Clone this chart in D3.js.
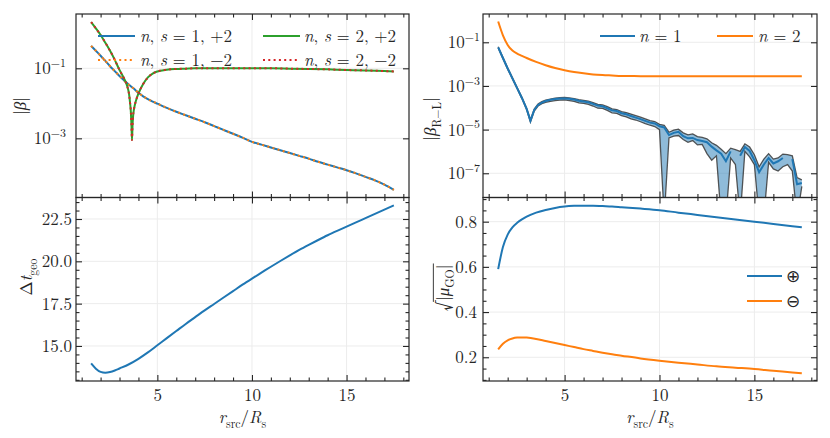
<!DOCTYPE html>
<html><head><meta charset="utf-8">
<script src="https://cdn.jsdelivr.net/npm/d3@7"></script>
<style>
body{margin:0;background:#fff}
</style>
</head><body><svg id="c" width="830" height="438" xmlns="http://www.w3.org/2000/svg"></svg>
<script>
// ---------------- data ----------------
const xMajor = [5, 10, 15];
const xMinor = [1,2,3,4,6,7,8,9,11,12,13,14,16,17,18];

// top-left |beta| (log10 exponents)
const xB1 = [1.5,1.75,2,2.25,2.5,2.75,3,3.25,3.5,3.75,4,4.25,4.5,4.75,5,5.5,6,6.5,7,7.5,8,8.5,9,9.5,10,10.5,11,11.5,12,12.5,13,13.5,14,14.5,15,15.5,16,16.5,17,17.5];
const betaN1Exp = [-0.36,-0.5,-0.64,-0.79,-0.94,-1.08,-1.22,-1.35,-1.47,-1.58,-1.7,-1.8,-1.88,-1.95,-2.01,-2.13,-2.24,-2.34,-2.44,-2.54,-2.65,-2.76,-2.87,-2.98,-3.1,-3.18,-3.26,-3.34,-3.42,-3.5,-3.58,-3.67,-3.75,-3.83,-3.91,-4.0,-4.1,-4.2,-4.32,-4.47];
const xB2 = [1.5,1.75,2,2.25,2.5,2.75,3,3.25,3.4,3.5,3.56,3.6,3.63,3.66,3.69,3.72,3.76,3.8,3.9,4,4.25,4.5,4.75,5,5.5,6,6.5,7,8,9,10,11,12,13,14,15,16,17,17.5];
const betaN2Exp = [0.32,0.14,-0.05,-0.27,-0.5,-0.76,-1.05,-1.3,-1.5,-1.72,-2.0,-2.25,-2.6,-3.05,-2.6,-2.35,-2.18,-2.07,-1.87,-1.72,-1.45,-1.26,-1.15,-1.09,-1.04,-1.02,-1.01,-1.0,-1.0,-1.0,-1.0,-1.0,-1.01,-1.02,-1.03,-1.05,-1.06,-1.08,-1.09];

// top-right |beta_R-L| (log10 exponents); null = gap / non-positive bound
const xRL1 = [1.5,1.75,2,2.25,2.5,2.75,3,3.2,3.4,3.6,3.8,4,4.25,4.5,4.75,5,5.25,5.5,5.75,6,6.25,6.5,6.75,7,7.25,7.5,7.75,8,8.25,8.5,8.75,9,9.25,9.5,9.75,10,10.25,10.5,10.75,11,11.25,11.5,11.75,12,12.25,12.5,12.75,13,13.25,13.5,13.75,14,14.25,14.5,14.75,15,15.25,15.5,15.75,16,16.25,16.5,16.75,17,17.25,17.5];
const rlN1Exp = [-1.23,-1.72,-2.2,-2.65,-3.1,-3.55,-4.05,-4.6,-4.1,-3.87,-3.76,-3.69,-3.63,-3.6,-3.58,-3.57,-3.59,-3.62,-3.68,-3.71,-3.75,-3.82,-3.9,-3.93,-4.02,-4.12,-4.15,-4.25,-4.3,-4.38,-4.45,-4.52,-4.6,-4.68,-4.72,-4.85,-4.9,-5.25,-5.15,-5.1,-5.3,-5.4,-5.38,-5.48,-5.52,-5.58,-5.78,-5.95,-6.1,-6.45,-6.0,null,-6.2,-5.8,-5.98,-6.4,-6.95,-6.6,-6.3,-6.55,-6.45,-6.3,null,-6.35,-7.5,-7.45];
const rlN1LoExp = [-1.26,-1.75,-2.23,-2.68,-3.13,-3.58,-4.09,-4.66,-4.15,-3.92,-3.81,-3.75,-3.71,-3.67,-3.65,-3.64,-3.67,-3.71,-3.78,-3.8,-3.84,-3.92,-4.02,-4.03,-4.12,-4.23,-4.26,-4.36,-4.42,-4.51,-4.56,-4.64,-4.73,-4.8,-4.86,-5.0,null,-5.38,-5.3,-5.27,-5.45,-5.58,-5.5,-5.7,-5.68,-6.1,-6.4,-6.2,null,null,-6.3,-6.6,null,-6.0,-6.25,-6.6,null,null,-6.5,-6.8,-6.9,-6.7,-6.6,-6.9,null,-7.6];
const rlN1HiExp = [-1.2,-1.69,-2.17,-2.62,-3.07,-3.52,-4.02,-4.55,-4.06,-3.83,-3.72,-3.65,-3.6,-3.56,-3.54,-3.53,-3.55,-3.58,-3.63,-3.66,-3.7,-3.76,-3.84,-3.87,-3.95,-4.05,-4.08,-4.18,-4.22,-4.29,-4.36,-4.43,-4.51,-4.59,-4.63,-4.76,-4.8,-5.12,-5.02,-4.98,-5.15,-5.24,-5.2,-5.32,-5.36,-5.42,-5.6,-5.72,-5.9,-6.1,-5.85,-5.92,-6.0,-5.65,-5.8,-6.15,-6.7,-6.35,-6.1,-6.35,-6.3,-6.12,-6.15,-6.2,-7.2,-7.3];
const xRL2 = [1.5,1.75,2,2.25,2.5,2.75,3,3.5,4,4.5,5,5.5,6,6.5,7,7.5,8,9,10,11,12,13,14,15,16,17,17.5];
const rlN2Exp = [-0.05,-0.68,-1.12,-1.38,-1.52,-1.62,-1.72,-1.9,-2.05,-2.18,-2.28,-2.36,-2.42,-2.47,-2.5,-2.52,-2.54,-2.55,-2.56,-2.56,-2.56,-2.56,-2.56,-2.56,-2.56,-2.56,-2.56];

// bottom-left Delta t_geo
const xT = [1.5,1.75,2,2.25,2.5,2.75,3,3.5,4,4.5,5,5.5,6,6.5,7,7.5,8,8.5,9,9.5,10,10.5,11,11.5,12,12.5,13,13.5,14,14.5,15,15.5,16,16.5,17,17.5];
const dtGeo = [13.97,13.66,13.47,13.42,13.46,13.55,13.67,13.92,14.24,14.62,15.04,15.46,15.88,16.3,16.7,17.1,17.48,17.86,18.24,18.62,18.98,19.33,19.68,20.02,20.35,20.67,20.97,21.26,21.54,21.8,22.05,22.3,22.55,22.8,23.05,23.3];

// bottom-right sqrt|mu_GO|
const xMu = [1.5,1.75,2,2.25,2.5,2.75,3,3.5,4,4.5,5,5.5,6,6.5,7,7.5,8,9,10,11,12,13,14,15,16,17,17.5];
const muPlus = [0.59,0.688,0.743,0.775,0.795,0.81,0.822,0.84,0.852,0.861,0.867,0.87,0.871,0.871,0.869,0.867,0.864,0.858,0.851,0.84,0.83,0.82,0.81,0.8,0.79,0.78,0.775];
const muMinus = [0.235,0.26,0.275,0.283,0.287,0.288,0.287,0.281,0.272,0.263,0.254,0.245,0.236,0.228,0.22,0.213,0.207,0.195,0.185,0.176,0.168,0.16,0.154,0.148,0.14,0.133,0.129];

const yMajTL = [1e-3, 1e-1];
const yMajTR = [1e-7, 1e-5, 1e-3, 1e-1];
const yMajBL = [15, 17.5, 20, 22.5];
const yMinBL = [13,13.5,14,14.5,15.5,16,16.5,17,18,18.5,19,19.5,20.5,21,21.5,22,23,23.5];
const yMajBR = [0.2, 0.4, 0.6, 0.8];
const yMinBR = [0.1,0.15,0.25,0.3,0.35,0.45,0.5,0.55,0.65,0.7,0.75,0.85,0.9];

// ---------------- font pick ----------------
function fontExists(f) {
  const c = document.createElement('canvas').getContext('2d');
  const s = 'mmmmmmmmmmlli1234567890WQ';
  for (const base of ['monospace', 'sans-serif']) {
    c.font = '40px ' + base; const w0 = c.measureText(s).width;
    c.font = '40px "' + f + '",' + base; const w1 = c.measureText(s).width;
    if (Math.abs(w0 - w1) > 0.5) return true;
  }
  return false;
}
const serifCands = ['Latin Modern Roman','CMU Serif','Computer Modern','Liberation Serif','DejaVu Serif','Noto Serif','Tinos','Times New Roman','Nimbus Roman','FreeSerif','STIX Two Text','Georgia'];
const found = serifCands.find(fontExists);
const FONT = found ? '"' + found + '", serif' : '"Noto Sans", sans-serif';
const FS = found ? 17 : 16;

// ---------------- style ----------------
const C = {blue:'#1f77b4', orange:'#ff7f0e', green:'#2ca02c', red:'#d62728'};
const INK = '#262626', GRID = '#ececec';
const xDom = [0.7, 18.3];
const P = {L:[76,409], R:[483,817], T:[14,197.5], B:[197.5,381]};

const svg = d3.select('#c').style('font-family', FONT);
const defs = svg.append('defs');

const xL = d3.scaleLinear().domain(xDom).range(P.L);
const xR = d3.scaleLinear().domain(xDom).range(P.R);
const yTL = d3.scaleLog().domain([Math.pow(10,-4.69), Math.pow(10,0.551)]).range([P.T[1], P.T[0]]);
const yTR = d3.scaleLog().domain([Math.pow(10,-8.11), Math.pow(10,0.296)]).range([P.T[1], P.T[0]]);
const yBL = d3.scaleLinear().domain([12.93, 23.77]).range([P.B[1], P.B[0]]);
const yBR = d3.scaleLinear().domain([0.095, 0.907]).range([P.B[1], P.B[0]]);

const pow10 = a => a.map(e => e == null ? null : Math.pow(10, e));
const zip = (xs, ys) => xs.map((x, i) => [x, ys[i]]);

function math(sel, parts, fs) {
  let level = 0;
  parts.forEach(p => {
    const lv = p.sub ? fs * 0.28 : p.sup ? -fs * 0.42 : (p.dy || 0);
    const ts = sel.append('tspan').text(p.t).attr('dy', lv - level);
    level = lv;
    if (p.i) ts.attr('font-style', 'italic');
    if (p.sub || p.sup) ts.attr('font-size', fs * 0.7);
    if (p.size) ts.attr('font-size', fs * p.size);
  });
  return sel;
}

function gridAndClip(id, xs, ys, X, Y, yMaj) {
  defs.append('clipPath').attr('id', id).append('rect')
    .attr('x', X[0]).attr('y', Y[0]).attr('width', X[1]-X[0]).attr('height', Y[1]-Y[0]);
  const g = svg.append('g');
  g.selectAll('.gx').data(xMajor).join('line').attr('class','gx')
    .attr('x1', d => xs(d)).attr('x2', d => xs(d)).attr('y1', Y[0]).attr('y2', Y[1])
    .attr('stroke', GRID).attr('stroke-width', 1);
  g.selectAll('.gy').data(yMaj).join('line').attr('class','gy')
    .attr('x1', X[0]).attr('x2', X[1]).attr('y1', d => ys(d)).attr('y2', d => ys(d))
    .attr('stroke', GRID).attr('stroke-width', 1);
  return svg.append('g').attr('clip-path', `url(#${id})`);
}

function frame(xs, ys, X, Y, o) {
  const g = svg.append('g').attr('color', INK);
  const clean = s => { s.select('.domain').remove(); s.attr('font-family', null).attr('font-size', FS); s.selectAll('.tick line').attr('stroke-width', 1.1); };
  const none = () => '';
  g.append('g').attr('transform', `translate(0,${Y[1]})`)
    .call(d3.axisBottom(xs).tickValues(xMajor).tickSize(-6).tickPadding(7.5).tickFormat(o.xLabels ? d3.format('d') : none)).call(clean);
  g.append('g').attr('transform', `translate(0,${Y[1]})`)
    .call(d3.axisBottom(xs).tickValues(xMinor).tickSize(-3.5).tickFormat(none)).call(clean);
  g.append('g').attr('transform', `translate(0,${Y[0]})`)
    .call(d3.axisTop(xs).tickValues(xMajor).tickSize(-6).tickFormat(none)).call(clean);
  g.append('g').attr('transform', `translate(0,${Y[0]})`)
    .call(d3.axisTop(xs).tickValues(xMinor).tickSize(-3.5).tickFormat(none)).call(clean);
  const la = g.append('g').attr('transform', `translate(${X[0]},0)`)
    .call(d3.axisLeft(ys).tickValues(o.yMaj).tickSize(-6).tickPadding(o.yPad).tickFormat(o.log ? none : d3.format('.1f'))).call(clean);
  g.append('g').attr('transform', `translate(${X[1]},0)`)
    .call(d3.axisRight(ys).tickValues(o.yMaj).tickSize(-6).tickFormat(none)).call(clean);
  if (o.yMin) {
    g.append('g').attr('transform', `translate(${X[0]},0)`)
      .call(d3.axisLeft(ys).tickValues(o.yMin).tickSize(-3.5).tickFormat(none)).call(clean);
    g.append('g').attr('transform', `translate(${X[1]},0)`)
      .call(d3.axisRight(ys).tickValues(o.yMin).tickSize(-3.5).tickFormat(none)).call(clean);
  }
  if (o.log) {
    la.selectAll('.tick text').each(function(d) {
      const e = Math.round(Math.log10(d));
      const t = d3.select(this);
      t.append('tspan').text('10');
      t.append('tspan').text('\u2212' + Math.abs(e)).attr('font-size', FS * 0.7).attr('dy', -FS * 0.42);
    });
  }
  g.append('rect').attr('x', X[0]).attr('y', Y[0]).attr('width', X[1]-X[0]).attr('height', Y[1]-Y[0])
    .attr('fill', 'none').attr('stroke', INK).attr('stroke-width', 1.2);
}

function drawLine(g, xs, ys, pts, color, dash, w) {
  const line = d3.line().defined(d => d[1] != null).x(d => xs(d[0])).y(d => ys(d[1])).curve(d3.curveMonotoneX);
  const p = g.append('path').datum(pts).attr('d', line).attr('fill', 'none')
    .attr('stroke', color).attr('stroke-width', w || 2);
  if (dash) p.attr('stroke-dasharray', dash);
  return p;
}

function rotLabel(cx, cy, parts, fs) {
  const g = svg.append('g').attr('transform', `translate(${cx},${cy}) rotate(-90)`);
  const t = g.append('text').attr('text-anchor', 'middle')
    .attr('font-size', fs).attr('fill', INK);
  math(t, parts, fs);
  return {g, t};
}

function legendItem(x1, x2, y, color, dash, parts, tx) {
  const l = svg.append('line').attr('x1', x1).attr('x2', x2).attr('y1', y).attr('y2', y)
    .attr('stroke', color).attr('stroke-width', 2);
  if (dash) l.attr('stroke-dasharray', dash);
  const t = svg.append('text').attr('x', tx).attr('y', y + 6)
    .attr('font-size', FS).attr('fill', INK);
  math(t, parts, FS);
}

const DOT = '2,3.3';

// ---------------- top-left ----------------
{
  const g = gridAndClip('cTL', xL, yTL, P.L, P.T, yMajTL);
  const n1 = zip(xB1, pow10(betaN1Exp));
  const n2 = zip(xB2, pow10(betaN2Exp));
  drawLine(g, xL, yTL, n1, C.blue);
  drawLine(g, xL, yTL, n1, C.orange, DOT);
  drawLine(g, xL, yTL, n2, C.green);
  drawLine(g, xL, yTL, n2, C.red, DOT);
  frame(xL, yTL, P.L, P.T, {yMaj: yMajTL, log: true, yPad: 10});
  const lab = (k, s) => [{t:'n', i:true}, {t:', '}, {t:'s', i:true}, {t:' = ' + k + ', ' + s}];
  legendItem(98, 135, 36, C.blue, null, lab(1, '+2'), 140);
  legendItem(98, 135, 60, C.orange, DOT, lab(1, '\u22122'), 140);
  legendItem(263, 300, 36, C.green, null, lab(2, '+2'), 304);
  legendItem(263, 300, 60, C.red, DOT, lab(2, '\u22122'), 304);
  rotLabel(26, 106, [{t:'|'}, {t:'\u03B2', i:true}, {t:'|'}], FS);
}

// ---------------- top-right ----------------
{
  const g = gridAndClip('cTR', xR, yTR, P.R, P.T, yMajTR);
  const lo = pow10(rlN1LoExp), hi = pow10(rlN1HiExp), mid = pow10(rlN1Exp);
  const bottom = P.T[1] + 20;
  const yLo = v => v == null ? bottom : yTR(v);
  const band = xRL1.map((x, i) => ({x, lo: lo[i], hi: hi[i]}));
  g.append('path').datum(band)
    .attr('d', d3.area().x(d => xR(d.x)).y0(d => yLo(d.lo)).y1(d => yTR(d.hi)))
    .attr('fill', C.blue).attr('fill-opacity', 0.5);
  g.append('path').datum(band)
    .attr('d', d3.line().x(d => xR(d.x)).y(d => yLo(d.lo)))
    .attr('fill', 'none').attr('stroke', '#3a3a3a').attr('stroke-width', 1.3).attr('stroke-opacity', 0.85);
  g.append('path').datum(band)
    .attr('d', d3.line().x(d => xR(d.x)).y(d => yTR(d.hi)))
    .attr('fill', 'none').attr('stroke', '#3a3a3a').attr('stroke-width', 1.3).attr('stroke-opacity', 0.85);
  const midLine = d3.line().defined(d => d[1] != null).x(d => xR(d[0])).y(d => yTR(d[1]));
  g.append('path').datum(zip(xRL1, mid)).attr('d', midLine).attr('fill', 'none')
    .attr('stroke', C.blue).attr('stroke-width', 2);
  drawLine(g, xR, yTR, zip(xRL2, pow10(rlN2Exp)), C.orange);
  frame(xR, yTR, P.R, P.T, {yMaj: yMajTR, log: true, yPad: 3});
  legendItem(600, 635, 36, C.blue, null, [{t:'n', i:true}, {t:' = 1'}], 639);
  legendItem(717, 753, 36, C.orange, null, [{t:'n', i:true}, {t:' = 2'}], 758);
  rotLabel(436, 119, [{t:'|'}, {t:'\u03B2', i:true}, {t:'R\u2212L', sub:true}, {t:'|'}], FS);
}

// ---------------- bottom-left ----------------
{
  const g = gridAndClip('cBL', xL, yBL, P.L, P.B, yMajBL);
  drawLine(g, xL, yBL, zip(xT, dtGeo), C.blue);
  frame(xL, yBL, P.L, P.B, {yMaj: yMajBL, yMin: yMinBL, yPad: 4, xLabels: true});
  rotLabel(32, 277, [{t:'\u0394'}, {t:'t', i:true}, {t:'geo', sub:true}], FS);
  const t = svg.append('text').attr('x', 242.5).attr('y', 423).attr('text-anchor', 'middle')
    .attr('font-size', FS).attr('fill', INK);
  math(t, [{t:'r', i:true}, {t:'src', sub:true}, {t:'/'}, {t:'R', i:true}, {t:'s', sub:true}], FS);
}

// ---------------- bottom-right ----------------
{
  const g = gridAndClip('cBR', xR, yBR, P.R, P.B, yMajBR);
  drawLine(g, xR, yBR, zip(xMu, muPlus), C.blue);
  drawLine(g, xR, yBR, zip(xMu, muMinus), C.orange);
  frame(xR, yBR, P.R, P.B, {yMaj: yMajBR, yMin: yMinBR, yPad: 6, xLabels: true});
  legendItem(747, 782, 276, C.blue, null, [{t:'\u2295'}], 786);
  legendItem(747, 782, 301, C.orange, null, [{t:'\u2296'}], 786);
  const r = rotLabel(449, 288, [{t:'\u221A', size:1.3, dy:FS*0.12}, {t:'|', dy:0}, {t:'\u03BC', i:true}, {t:'GO', sub:true}, {t:'|'}], FS);
  const tsp = r.t.selectAll('tspan').nodes();
  const total = r.t.node().getComputedTextLength();
  const sq = tsp[0].getComputedTextLength();
  const x0 = -total / 2 + sq - 0.8;
  r.g.append('line').attr('x1', x0).attr('x2', total / 2 + 1).attr('y1', -FS * 0.92).attr('y2', -FS * 0.92)
    .attr('stroke', INK).attr('stroke-width', 0.9);
  const t = svg.append('text').attr('x', 650).attr('y', 423).attr('text-anchor', 'middle')
    .attr('font-size', FS).attr('fill', INK);
  math(t, [{t:'r', i:true}, {t:'src', sub:true}, {t:'/'}, {t:'R', i:true}, {t:'s', sub:true}], FS);
}
</script>
</body></html>
